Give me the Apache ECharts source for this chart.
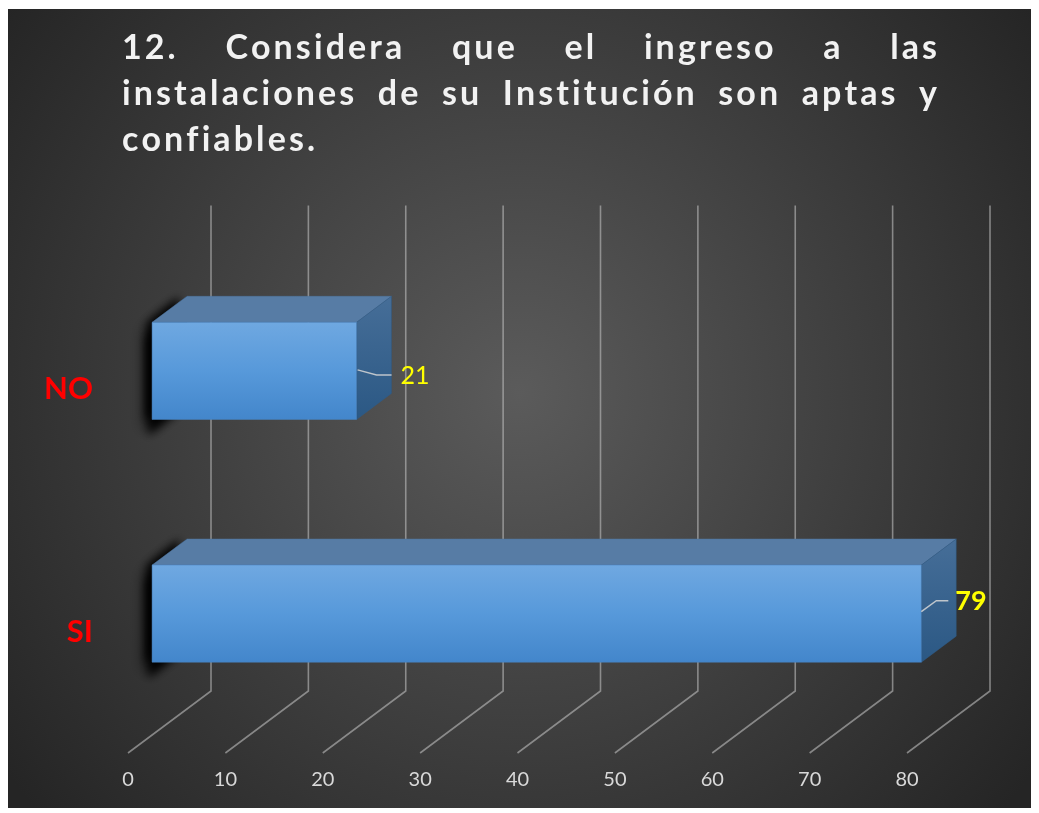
<!DOCTYPE html>
<html><head><meta charset="utf-8">
<script src="https://cdn.jsdelivr.net/npm/echarts@6/dist/echarts.min.js"></script>
<style>html,body{margin:0;padding:0;background:#fff}#c{width:1039px;height:813px}</style>
</head><body><div id="c"></div>
<script>
// ---- data ----
const titleLines = [
  ["12.", "Considera", "que", "el", "ingreso", "a", "las"],
  ["instalaciones", "de", "su", "Institución", "son", "aptas", "y"],
  ["confiables."]
];
const categories = ["SI", "NO"];
const values = [79, 21];
const xTicks = [0, 10, 20, 30, 40, 50, 60, 70, 80];

// ---- styling / layout ----
const DX = 83, DY = -62;          // depth vector (front -> back)
const F1 = 0.29, F2 = 0.71;       // bar front/back depth fractions
const labelStyle = {
  SI: { bold: true, size: 27, lead: [[0, -2], [15, -13], [27, -13]], tx: 34, ty: -12 },
  NO: { bold: false, size: 25, lead: [[1, -1], [20, 4], [35, 4]], tx: 44, ty: 5 }
};

// title layout (per character with letter spacing + justification)
const fs = 34;
const tFont = 'bold ' + fs + 'px Lato';
const mctx = document.createElement('canvas').getContext('2d');
mctx.font = tFont;
const cw = ch => mctx.measureText(ch).width;
const L = 122, R = 937, baselines = [65, 111, 157];
const lastW = 193;
const lastChars = [...titleLines[2][0]];
const ls = (lastW - lastChars.reduce((s, c) => s + cw(c), 0)) / (lastChars.length - 1);
const titleEls = [];
titleLines.forEach((words, li) => {
  const ww = words.map(w => { const a = [...w]; return a.reduce((s, c) => s + cw(c), 0) + ls * (a.length - 1); });
  const sum = ww.reduce((a, b) => a + b, 0);
  const gap = li < titleLines.length - 1 ? (R - L - sum) / (words.length - 1) : cw(' ') + 2 * ls;
  let x = L;
  words.forEach((w, wi) => {
    [...w].forEach(c => {
      titleEls.push({
        type: 'text', x: x, y: baselines[li], silent: true, z: 10,
        style: {
          text: c, fill: '#f2f2f2', font: tFont,
          align: 'left', verticalAlign: 'bottom', textAlign: 'left', textVerticalAlign: 'bottom',
          shadowColor: 'rgba(0,0,0,0.65)', shadowBlur: 4, shadowOffsetX: 2, shadowOffsetY: 2
        }
      });
      x += cw(c) + ls;
    });
    x += gap - ls;
  });
});

const chart = echarts.init(document.getElementById('c'));
chart.setOption({
  backgroundColor: '#ffffff',
  animation: false,
  graphic: {
    elements: [
      {
        type: 'rect', z: -100, silent: true,
        shape: { x: 8, y: 9, width: 1023, height: 799 },
        style: {
          fill: new echarts.graphic.RadialGradient(0.5, 0.48, 0.8, [
            { offset: 0, color: '#5b5b5b' },
            { offset: 1, color: '#252525' }
          ])
        }
      }
    ].concat(titleEls)
  },
  grid: { left: 128, right: 132, top: 267.5, bottom: 60, containLabel: false },
  xAxis: {
    type: 'value', min: 0, max: 80, interval: 10,
    axisLine: { show: false }, axisTick: { show: false }, splitLine: { show: false },
    axisLabel: { color: '#d9d9d9', fontSize: 20, fontFamily: 'Lato', margin: 17 }
  },
  yAxis: {
    type: 'category', data: categories,
    axisLine: { show: false }, axisTick: { show: false }, splitLine: { show: false },
    axisLabel: { color: '#ff0000', fontSize: 31, fontWeight: 'bold', fontFamily: 'Lato', margin: 35 }
  },
  series: [
    {
      type: 'custom', z: 1, silent: true,
      data: xTicks.map(v => [v, 0]),
      encode: { x: 0, y: 1 },
      renderItem: function (params, api) {
        const cs = params.coordSys;
        const x = api.coord([api.value(0), 0])[0];
        const top = cs.y, bot = cs.y + cs.height;
        return {
          type: 'polyline',
          shape: { points: [[x, bot], [x + DX, bot + DY], [x + DX, top + DY]] },
          style: { stroke: 'rgba(190,190,190,0.6)', lineWidth: 1.6, fill: null }
        };
      }
    },
    {
      type: 'custom', z: 2, silent: true,
      data: categories.map((c, i) => [values[i], c]),
      encode: { x: 0, y: 1 },
      renderItem: function (params, api) {
        const v = api.value(0), ci = api.value(1);
        const cat = categories[ci];
        const p0 = api.coord([0, ci]), p1 = api.coord([v, ci]);
        const band = api.size([0, 1])[1];
        const h = band * 0.4;
        const x0 = p0[0] + F1 * DX, x1 = p1[0] + F1 * DX;
        const yc = p0[1] + F1 * DY;
        const yT = yc - h / 2, yB = yc + h / 2;
        const bx = (F2 - F1) * DX, by = (F2 - F1) * DY;
        const ls2 = labelStyle[cat];
        const sh = [[x0 + 3, yT], [x0 + bx, yT + by], [x0 + bx, yB + by], [x0 + 3, yB]];
        const children = [
          { // shadow
            type: 'polygon', shape: { points: sh },
            style: { fill: '#000', shadowColor: 'rgba(0,0,0,1)', shadowBlur: 16, shadowOffsetX: -9, shadowOffsetY: 10 }
          },
          { // shadow (second pass for depth)
            type: 'polygon', shape: { points: sh },
            style: { fill: '#000', shadowColor: 'rgba(0,0,0,1)', shadowBlur: 10, shadowOffsetX: -7, shadowOffsetY: 16 }
          },
          { // shadow (third pass)
            type: 'polygon', shape: { points: sh },
            style: { fill: '#000', shadowColor: 'rgba(0,0,0,0.9)', shadowBlur: 8, shadowOffsetX: -8, shadowOffsetY: 0 }
          },
          { // top face
            type: 'polygon',
            shape: { points: [[x0, yT], [x1, yT], [x1 + bx, yT + by], [x0 + bx, yT + by]] },
            style: { fill: '#577ca5', stroke: '#4f76a0', lineWidth: 0.5 }
          },
          { // right face
            type: 'polygon',
            shape: { points: [[x1, yT], [x1 + bx, yT + by], [x1 + bx, yB + by], [x1, yB]] },
            style: {
              fill: new echarts.graphic.LinearGradient(0, 0, 0, 1, [
                { offset: 0, color: '#466e98' }, { offset: 1, color: '#2b5884' }
              ]), stroke: '#2f5b86', lineWidth: 0.5
            }
          },
          { // front face
            type: 'rect',
            shape: { x: x0, y: yT, width: x1 - x0, height: yB - yT },
            style: {
              fill: new echarts.graphic.LinearGradient(0, 0, 0, 1, [
                { offset: 0, color: '#6fa8e1' }, { offset: 0.5, color: '#5799da' }, { offset: 1, color: '#4386cb' }
              ]), stroke: '#4a84c0', lineWidth: 0.5
            }
          },
          { // leader line
            type: 'polyline',
            shape: { points: ls2.lead.map(p => [x1 + p[0], yc + p[1]]) },
            style: { stroke: 'rgba(215,215,215,0.85)', lineWidth: 1.5, fill: null }
          },
          { // value label
            type: 'text', x: x1 + ls2.tx, y: yc + ls2.ty,
            style: {
              text: String(v), fill: '#ffff00',
              font: (ls2.bold ? 'bold ' : '') + ls2.size + 'px Lato',
              align: 'left', verticalAlign: 'middle', textAlign: 'left', textVerticalAlign: 'middle'
            }
          }
        ];
        return { type: 'group', children: children };
      }
    }
  ]
});
</script></body></html>
